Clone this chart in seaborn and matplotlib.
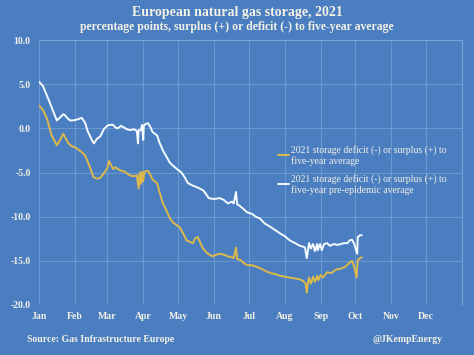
import pandas as pd
import seaborn as sns
import matplotlib.pyplot as plt

# Day of year and percentage-point gap
white_days = [0, 3.5, 7, 11, 15.5, 18, 21, 22.5, 25, 27, 29, 33, 37, 40, 42, 46, 47.5, 50, 53, 56,
              59, 61, 64, 66, 68, 71, 72, 76, 78.5, 82, 84.5, 85.5, 86, 88, 89, 90, 90.5, 92, 94, 96,
              98, 102, 104, 107, 110, 113, 115.5, 119, 123, 126, 128.5, 133, 137, 141.5, 144, 146.5,
              151, 156, 159.5, 163, 166.5, 168, 170, 171, 173.5, 177, 179.5, 184, 187, 190.5, 195,
              199, 203.5, 208, 212, 216.5, 221, 225, 228, 229.5, 231, 233, 234.5, 236.5, 238, 240,
              240.5, 242.5, 244, 246, 248.5, 251, 254.5, 257, 260.5, 263, 266, 268, 270, 272, 273.5,
              274.5, 275, 277, 278.5]
white_vals = [5.3, 4.8, 3.7, 2.4, 0.9, 1.2, 1.6, 1.5, 1.1, 0.9, 0.9, 1.0, 1.2, 0.6, -0.3, -1.4, -1.7,
              -1.2, -0.9, -0.1, 0.3, 0.4, 0.4, 0.1, 0.0, 0.3, 0.2, -0.1, -0.2, -0.1, -0.3, -1.7, -0.2,
              -0.2, 0.4, -1.3, 0.3, 0.5, 0.6, 0.2, -0.4, -0.8, -1.6, -2.5, -3.2, -3.9, -4.2, -4.6,
              -5.0, -5.6, -6.2, -6.5, -6.7, -7.0, -7.4, -7.9, -8.0, -7.9, -8.1, -8.5, -8.3, -8.5,
              -7.2, -8.6, -8.8, -9.2, -9.5, -9.7, -10.0, -10.2, -10.8, -11.1, -11.5, -11.9, -12.2,
              -12.7, -13.0, -13.3, -13.4, -13.5, -14.7, -13.0, -13.6, -13.1, -13.9, -13.1, -13.8,
              -13.1, -13.8, -13.1, -13.0, -13.3, -13.1, -13.2, -13.1, -13.0, -13.0, -12.7, -12.6,
              -13.1, -13.8, -14.2, -12.3, -12.1, -12.1]

yellow_days = [0, 3.5, 7, 11, 15.5, 18, 21, 23, 25, 28, 32, 35, 38, 40, 44, 47, 50, 53, 56, 59,
               60.5, 62, 64, 66, 68, 71, 74, 77, 80, 83, 84.5, 86, 87, 88, 89, 90, 91, 94, 96, 98,
               102, 104, 107, 110, 113, 116, 121.5, 124, 127.5, 131, 133, 134.5, 137, 139, 141, 144,
               147, 150, 153, 156, 159.5, 163, 166.5, 168, 170, 171, 174, 177, 180, 184, 188, 192,
               196, 200, 204, 208, 212, 216, 221, 225, 228, 230, 231, 232, 233, 234.5, 236.5, 238,
               240, 241, 243, 245, 248.5, 252, 256, 260, 264, 268, 270, 272, 274, 275, 277, 278.5]
yellow_vals = [2.6, 2.1, 1.1, -0.8, -1.9, -1.4, -0.6, -1.1, -1.6, -2.0, -2.2, -2.5, -2.8, -3.1,
               -4.4, -5.5, -5.7, -5.6, -5.1, -4.5, -3.7, -4.1, -4.6, -4.4, -4.6, -4.8, -4.9, -5.2,
               -5.4, -5.4, -5.3, -6.8, -5.0, -6.3, -4.9, -6.0, -4.9, -4.8, -5.2, -5.8, -6.2, -7.2,
               -8.5, -9.3, -10.2, -10.7, -11.2, -11.8, -12.7, -12.9, -13.0, -12.5, -12.3, -12.9,
               -13.5, -14.0, -14.3, -14.5, -14.3, -14.2, -14.3, -14.5, -14.6, -14.7, -13.5, -14.8,
               -14.9, -15.3, -15.5, -15.5, -15.7, -15.9, -16.2, -16.4, -16.5, -16.7, -16.8, -16.9,
               -17.0, -17.1, -17.3, -17.6, -18.6, -17.5, -16.9, -17.6, -16.8, -17.4, -16.7, -17.2,
               -16.6, -16.9, -16.3, -16.4, -16.0, -15.9, -15.7, -15.2, -15.0, -15.7, -16.9, -14.9,
               -14.7, -14.6]

month_starts = [0, 31, 59, 90, 120, 151, 181, 212, 243, 273, 304, 334, 365]
month_labels = ['Jan', 'Feb', 'Mar', 'Apr', 'May', 'Jun', 'Jul', 'Aug', 'Sep', 'Oct', 'Nov', 'Dec']
y_ticks = [10, 5, 0, -5, -10, -15, -20]

label_yellow = '2021 storage deficit (-) or surplus (+) to\nfive-year average'
label_white = '2021 storage deficit (-) or surplus (+) to\nfive-year pre-epidemic average'

df = pd.concat([
    pd.DataFrame({'day': yellow_days, 'gap': yellow_vals, 'series': label_yellow}),
    pd.DataFrame({'day': white_days, 'gap': white_vals, 'series': label_white}),
])

bg = '#4a7ec0'
grid = '#7aa3d8'
txt = '#f3f1e6'

sns.set_style('darkgrid')
plt.rcParams['font.family'] = ['Liberation Serif', 'DejaVu Serif']

fig = plt.figure(figsize=(4.74, 3.55), dpi=100, facecolor=bg)
ax = fig.add_axes([0.082, 0.141, 0.893, 0.746])
ax.set_facecolor(bg)

sns.lineplot(data=df, x='day', y='gap', hue='series',
             palette={label_yellow: '#dcb94a', label_white: '#f4faff'},
             linewidth=1.4, ax=ax, estimator=None, sort=False)

ax.set_xlim(0, 365)
ax.set_ylim(-20, 10)
ax.set_xticks(month_starts)
ax.set_xticklabels(month_labels + [''])
ax.set_yticks(y_ticks)
ax.set_yticklabels([f'{v:.1f}' for v in y_ticks])
ax.grid(True, color=grid, linewidth=0.8, alpha=0.7)
for s in ax.spines.values():
    s.set_visible(True)
    s.set_color(grid)
    s.set_linewidth(0.8)
ax.spines['left'].set_visible(False)
ax.spines['bottom'].set_visible(False)
ax.tick_params(axis='both', length=0, colors=txt, labelsize=7)
ax.tick_params(axis='y', pad=6)
ax.tick_params(axis='x', pad=5)
for t in ax.get_xticklabels() + ax.get_yticklabels():
    t.set_fontweight('bold')
ax.set_xlabel('')
ax.set_ylabel('')

leg = ax.legend(loc='upper left', bbox_to_anchor=(0.555, 0.62), frameon=False,
                fontsize=7, handlelength=1.2, handletextpad=0.15, labelspacing=0.8,
                borderaxespad=0)
for t in leg.get_texts():
    t.set_color(txt)

fig.text(0.5, 0.965, 'European natural gas storage, 2021', ha='center', va='center',
         color=txt, fontsize=10, fontweight='bold')
fig.text(0.5, 0.925, 'percentage points, surplus (+) or deficit (-) to five-year average',
         ha='center', va='center', color=txt, fontsize=8.5, fontweight='bold')
fig.text(0.057, 0.043, 'Source: Gas Infrastructure Europe', ha='left', va='center',
         color=txt, fontsize=7, fontweight='bold')
fig.text(0.933, 0.043, '@JKempEnergy', ha='right', va='center',
         color=txt, fontsize=7, fontweight='bold')

fig.savefig('out.png', dpi=100, facecolor=bg)
